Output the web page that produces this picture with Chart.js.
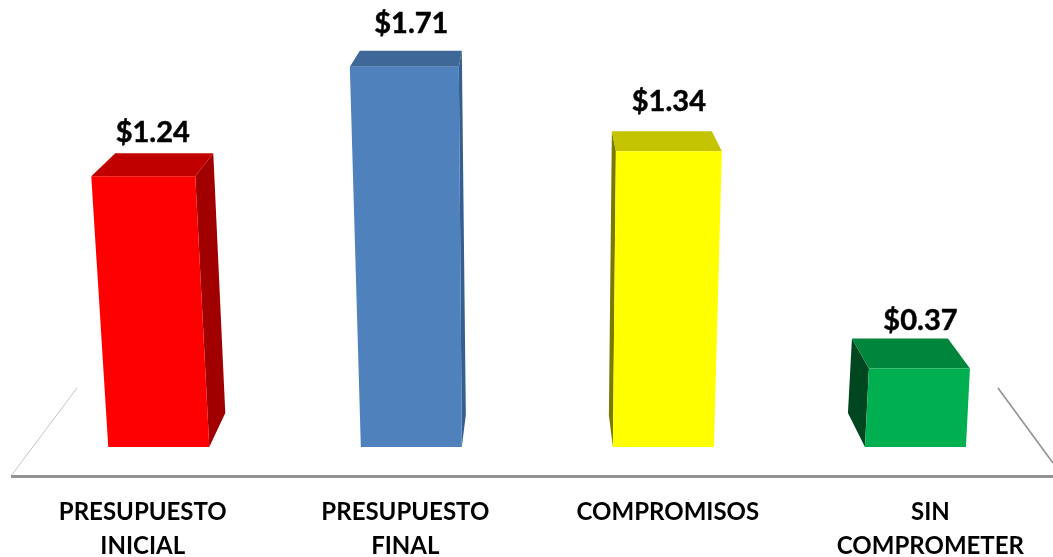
<!DOCTYPE html>
<html lang="es">
<head>
    <meta charset="UTF-8">
    <title>Presupuesto</title>
    <script src="https://cdn.jsdelivr.net/npm/chart.js"></script>
    <style>
        html, body { margin: 0; padding: 0; background: #fff; overflow: hidden; }
        /* last band runs past the window in the picture, so the chart is wider than the page */
        #wrap { width: 1064px; height: 557px; }
    </style>
</head>
<body>
    <div id="wrap"><canvas id="budgetChart"></canvas></div>
    <script>
        const categories = [['PRESUPUESTO', 'INICIAL'], ['PRESUPUESTO', 'FINAL'], 'COMPROMISOS', ['SIN', 'COMPROMETER']];
        const values = [1.24, 1.71, 1.34, 0.37];

        const frontColors = ['#ff0000', '#4f81bd', '#ffff00', '#00b050'];
        const topColors = ['#c00000', '#3f6797', '#c4c400', '#00853c'];
        const sideColors = ['#a00000', '#355f91', '#7a7a00', '#00471f'];

        // the picture is a fake 3D box in perspective, so every box needs its own offsets (px)
        const shift = [16, 6, -4.5, -15];          // bottom centre relative to the tick
        const topNudge = [2, -4, -1, 3];
        const leanLeft = [-17, -11, 3, 4];
        const leanRight = [-14, -3, 8, 4];
        const backLeft = [24, 10, -4, -17];
        const backRight = [18, 3, -10, -22];
        const backUp = [23, 16, 20, 30];
        const sideFoot = [[16, -34], [4, -32], [-4, -32], [-17, -34]];
        const labelDx = [10, 6, 1, -10];
        const labelDy = [-42, -47, -51, -45];

        function poly(ctx, pts, color) {
            ctx.fillStyle = color;
            ctx.beginPath();
            pts.forEach((p, i) => i ? ctx.lineTo(p[0], p[1]) : ctx.moveTo(p[0], p[1]));
            ctx.closePath();
            ctx.fill();
        }

        const floorPlugin = {
            id: 'floor',
            beforeDatasetsDraw(chart) {
                const ctx = chart.ctx;
                ctx.save();
                ctx.strokeStyle = '#c4c4c4';
                ctx.lineWidth = 1;
                ctx.beginPath();
                ctx.moveTo(11, 476);
                ctx.lineTo(77, 388);
                ctx.stroke();
                ctx.strokeStyle = '#929292';
                ctx.lineWidth = 1.6;
                ctx.beginPath();
                ctx.moveTo(998, 388);
                ctx.lineTo(1053, 463);
                ctx.stroke();
                ctx.lineWidth = 3;
                ctx.beginPath();
                ctx.moveTo(11, 476.5);
                ctx.lineTo(1064, 476.5);
                ctx.stroke();
                ctx.restore();
            }
        };

        const boxPlugin = {
            id: 'box3d',
            beforeDatasetDraw(chart, args) {
                const ctx = chart.ctx;
                const meta = args.meta;
                ctx.save();
                meta.data.forEach((bar, i) => {
                    const half = bar.width / 2;
                    const cx = bar.x + shift[i];
                    const y = bar.y + topNudge[i];
                    const bl = [cx - half, bar.base];
                    const br = [cx + half, bar.base];
                    const tl = [bl[0] + leanLeft[i], y];
                    const tr = [br[0] + leanRight[i], y];
                    const bkl = [tl[0] + backLeft[i], y - backUp[i]];
                    const bkr = [tr[0] + backRight[i], y - backUp[i]];
                    // blue and red show the right face, yellow and green the left one
                    if (i < 2) {
                        poly(ctx, [tr, bkr, [br[0] + sideFoot[i][0], bar.base + sideFoot[i][1]], br], sideColors[i]);
                    } else {
                        poly(ctx, [tl, bkl, [bl[0] + sideFoot[i][0], bar.base + sideFoot[i][1]], bl], sideColors[i]);
                    }
                    poly(ctx, [tl, bkl, bkr, tr], topColors[i]);
                    poly(ctx, [tl, tr, br, bl], frontColors[i]);

                    const text = '$' + values[i].toFixed(2);
                    ctx.fillStyle = '#000';
                    ctx.strokeStyle = '#000';
                    ctx.lineWidth = 0.5;
                    ctx.font = 'bold 29px Lato';
                    ctx.textAlign = 'center';
                    ctx.textBaseline = 'middle';
                    ctx.fillText(text, bar.x + labelDx[i], bar.y + labelDy[i]);
                    ctx.strokeText(text, bar.x + labelDx[i], bar.y + labelDy[i]);
                });
                ctx.restore();
                return false;
            }
        };

        new Chart(document.getElementById('budgetChart'), {
            type: 'bar',
            data: {
                labels: categories,
                datasets: [{ data: values, backgroundColor: frontColors, barThickness: 101 }]
            },
            options: {
                responsive: true,
                maintainAspectRatio: false,
                animation: false,
                layout: { padding: { left: 11.5, right: 0, top: 7, bottom: 0 } },
                plugins: { legend: { display: false }, tooltip: { enabled: false } },
                scales: {
                    x: {
                        grid: { display: false },
                        border: { display: false },
                        afterFit(scale) { scale.height = 110; },
                        ticks: {
                            color: '#000',
                            padding: 40,
                            autoSkip: false,
                            maxRotation: 0,
                            font: { family: 'Lato', weight: 'bold', size: 24, lineHeight: 1.42 }
                        }
                    },
                    y: { display: false, min: 0, max: 2 }
                }
            },
            plugins: [floorPlugin, boxPlugin]
        });
    </script>
</body>
</html>
